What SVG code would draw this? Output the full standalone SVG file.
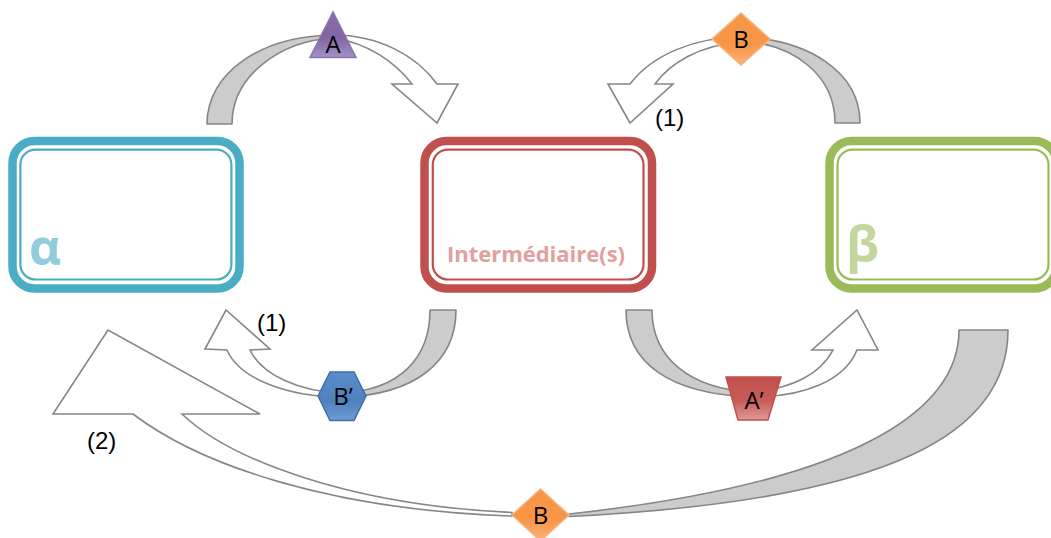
<svg xmlns="http://www.w3.org/2000/svg" width="1051" height="538" viewBox="0 0 1051 538">
  <style>
    .outer { fill: #ffffff; stroke-width: 8.5; }
    .inner { fill: none; stroke-width: 2.2; }
    .band { fill: #cccccc; stroke: #868686; stroke-width: 1.6; stroke-linejoin: round; }
    .shaft { fill: #ffffff; stroke: #868686; stroke-width: 1.6; stroke-linejoin: miter; }
    .tag { font-family: "Open Sans", "Liberation Sans", sans-serif; font-size: 24px; fill: #000000; text-anchor: middle; }
    .num { font-family: "Liberation Sans", Arial, sans-serif; font-size: 24px; fill: #000000; }
    .big { font-family: "Open Sans", "Liberation Sans", sans-serif; font-weight: bold; font-size: 50px; }
  </style>
  <defs>
    <linearGradient id="gPurple" x1="0" y1="0" x2="0" y2="1">
      <stop offset="0" stop-color="#8a6fb0"/>
      <stop offset="0.55" stop-color="#8064a2"/>
      <stop offset="1" stop-color="#a590c6"/>
    </linearGradient>
    <linearGradient id="gOrange" x1="0" y1="0" x2="0" y2="1">
      <stop offset="0" stop-color="#f79646"/>
      <stop offset="0.6" stop-color="#f79646"/>
      <stop offset="1" stop-color="#fab27c"/>
    </linearGradient>
    <linearGradient id="gBlue" x1="0" y1="0" x2="0" y2="1">
      <stop offset="0" stop-color="#5a8cca"/>
      <stop offset="0.6" stop-color="#4f81bd"/>
      <stop offset="1" stop-color="#6f9bd2"/>
    </linearGradient>
    <linearGradient id="gRed" x1="0" y1="0" x2="0" y2="1">
      <stop offset="0" stop-color="#c0504d"/>
      <stop offset="0.55" stop-color="#c85c59"/>
      <stop offset="1" stop-color="#de9a98"/>
    </linearGradient>
  </defs>

  <!-- boxes -->
  <g id="alpha">
    <rect class="outer" x="12.5" y="141" width="227" height="147.5" rx="22" stroke="#4bacc6"/>
    <rect class="inner" x="20.4" y="149.7" width="211" height="129.8" rx="15" stroke="#4bacc6"/>
    <text class="big" x="29" y="265" fill="#92cddc">α</text>
  </g>

  <g id="intermediaire">
    <rect class="outer" x="424.5" y="141" width="227.5" height="147.5" rx="22" stroke="#c0504d"/>
    <rect class="inner" x="432.8" y="149.7" width="210.7" height="129.8" rx="15" stroke="#c0504d"/>
    <text x="536" y="262" text-anchor="middle" font-family="Open Sans, Liberation Sans, sans-serif" font-weight="bold" font-size="22" fill="#e29f9d" textLength="178" lengthAdjust="spacingAndGlyphs">Intermédiaire(s)</text>
  </g>

  <g id="beta">
    <rect class="outer" x="829.5" y="141" width="227" height="147.5" rx="22" stroke="#9bbb59"/>
    <rect class="inner" x="837.5" y="149.7" width="211" height="129.8" rx="15" stroke="#9bbb59"/>
    <text class="big" x="846" y="262" fill="#c3d69b">β</text>
  </g>

  <!-- curved arrows with their carrier marks -->
  <g id="connectors">
    <!-- alpha to intermediate, via A -->
    <g id="arrow-A">
      <path class="band" d="M207,124 C207,72 262,36 333,35 L333,38 C280,41 232,76 232,124 Z"/>
      <path class="shaft" d="M333,35 C378,35 416,55 437,84 L458,84 L437,123 L392,84 L412,84 C395,62 368,43 333,38 Z"/>
      <polygon points="333,12 310,57.5 356,57.5" fill="url(#gPurple)" stroke="#8a72ad" stroke-width="1.5"/>
      <text class="tag" x="333" y="53">A</text>
    </g>

    <!-- beta to intermediate, via B -->
    <g id="arrow-B-top">
      <path class="band" d="M860,123 C860,72 808,39 741,37 L741,41 C795,44 835,76 835,123 Z"/>
      <path class="shaft" d="M741,37 C695,37 652,55 630,84 L608,84 L630,123 L673,84 L655,84 C670,63 700,45 741,42 Z"/>
      <polygon points="741,13 770,39 741,65 712,39" fill="url(#gOrange)" stroke="#f9b27c" stroke-width="1.5"/>
      <text class="tag" x="741" y="48">B</text>
      <text class="num" x="655" y="126">(1)</text>
    </g>

    <!-- intermediate to alpha, via B' -->
    <g id="arrow-Bprime">
      <path class="band" d="M456,310 C456,362 415,395 342,397 L342,393 C400,390 430,358 430,310 Z"/>
      <path class="shaft" d="M342,397 C290,397 240,380 227,350 L205,349 L226,310 L270,349 L250,350 C262,375 300,392 342,393 Z"/>
      <polygon points="318,396 330,372 354,372 366,396 354,420.5 330,420.5" fill="url(#gBlue)" stroke="#3d6fad" stroke-width="1.5"/>
      <text class="tag" x="343" y="405">B’</text>
      <text class="num" x="257" y="331">(1)</text>
    </g>

    <!-- intermediate to beta, via A' -->
    <g id="arrow-Aprime">
      <path class="band" d="M626,310 C626,362 668,394 752,397 L752,392 C690,389 652,358 652,310 Z"/>
      <path class="shaft" d="M752,397 C805,397 845,380 857,350 L878,350 L857,310 L812,350 L833,350 C820,375 790,389 752,392 Z"/>
      <polygon points="726,377 781,377 768,420 738,420" fill="url(#gRed)" stroke="#c0504d" stroke-width="1.5"/>
      <text class="tag" x="754" y="409">A’</text>
    </g>

    <!-- beta to alpha, via B -->
    <g id="arrow-B-bottom">
      <path class="band" d="M959,330 C959,400 880,480 569,514 L569,516.5 C900,500 1008,430 1008,330 Z"/>
      <path class="shaft" d="M512,512.5 C350,505 230,460 182,414 L260,414 L108,330 L53,414 L133,414 C200,465 330,510 512,516 Z"/>
      <polygon points="540.5,489 569,515 540.5,541 512,515" fill="url(#gOrange)" stroke="#f9b27c" stroke-width="1.5"/>
      <text class="tag" x="540.5" y="524">B</text>
      <text class="num" x="87" y="449">(2)</text>
    </g>
  </g>
</svg>
